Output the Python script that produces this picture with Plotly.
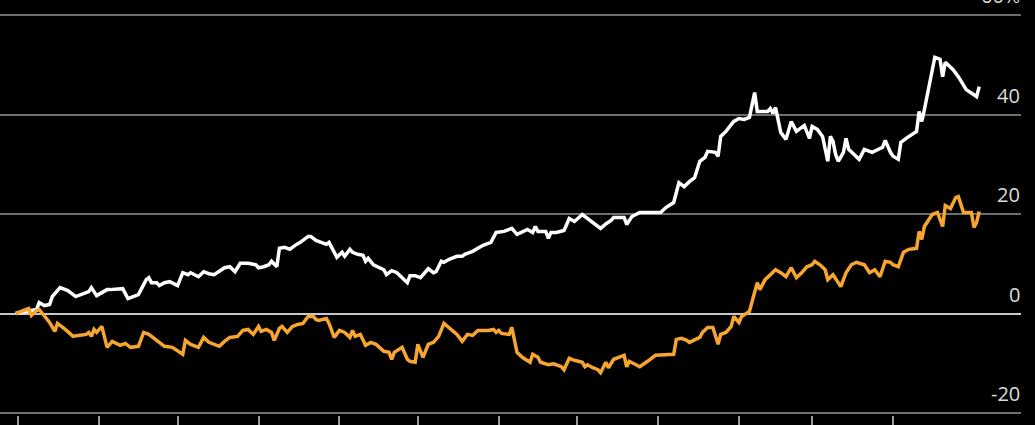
import pandas as pd
import plotly.graph_objects as go

start_date = pd.Timestamp("2022-05-01")

# White series: days since start, % change
white_days = [-1, 7, 8, 10, 12, 13, 16, 19, 22, 25, 27, 28, 30, 32, 34, 35, 40, 42, 46, 48,
              49, 50, 51, 53, 54, 56, 58, 61, 63, 65, 66, 69, 71, 73, 75, 79, 81, 83, 85, 88,
              91, 92, 94, 96, 97, 99, 100, 102, 104, 106, 108, 111, 112, 114, 116, 118, 119, 121, 122, 124,
              125, 127, 128, 130, 132, 133, 134, 136, 140, 141, 143, 145, 147, 149, 150, 152, 154, 157, 159, 160,
              162, 163, 165, 168, 170, 171, 173, 174, 176, 178, 181, 183, 186, 189, 191, 193, 195, 197, 198, 199,
              202, 203, 204, 206, 208, 209, 211, 213, 216, 218, 220, 223, 225, 227, 228, 232, 233, 235, 238, 239,
              246, 248, 251, 253, 255, 257, 259, 261, 263, 264, 267, 268, 269, 271, 274, 276, 278, 280, 281, 282,
              283, 287, 288, 289, 290, 291, 292, 294, 296, 298, 300, 301, 303, 304, 306, 308, 310, 311, 312, 313,
              314, 316, 317, 318, 320, 322, 324, 327, 331, 332, 334, 335, 337, 338, 340, 344, 345, 346, 347, 349,
              350, 351, 353, 354, 355, 358, 360, 362, 363, 367, 368]
white_vals = [0.0, 0.8, 2.2, 1.6, 1.8, 3.4, 5.2, 4.6, 3.4, 4.0, 4.4, 5.2, 3.6, 4.2, 4.8, 4.8, 5.0, 3.0, 3.8, 5.8,
              6.8, 7.2, 6.2, 6.2, 5.6, 6.2, 6.4, 5.6, 8.2, 7.8, 8.2, 7.4, 8.4, 8.0, 7.8, 9.2, 9.4, 8.4, 10.1, 10.1,
              9.8, 9.2, 9.4, 9.8, 10.5, 9.4, 13.1, 13.3, 12.9, 13.7, 14.3, 15.5, 15.5, 14.7, 14.3, 13.9, 14.3, 12.5, 11.3, 12.3,
              11.5, 12.9, 12.3, 11.9, 11.7, 10.5, 11.1, 9.8, 8.8, 7.8, 8.6, 8.2, 7.2, 6.2, 7.6, 7.6, 7.2, 9.0, 8.2, 8.4,
              10.5, 10.3, 10.9, 11.5, 11.5, 11.9, 12.3, 12.5, 13.1, 13.7, 14.3, 16.3, 16.5, 17.1, 15.9, 16.5, 16.9, 16.3, 17.5, 16.5,
              16.5, 15.1, 16.3, 16.3, 16.5, 16.7, 19.1, 18.5, 19.9, 19.1, 18.3, 17.1, 18.0, 18.7, 19.3, 19.3, 17.9, 19.5, 20.3, 20.3,
              20.3, 21.3, 22.3, 26.3, 25.5, 26.5, 27.3, 30.6, 31.4, 32.6, 32.4, 31.6, 35.6, 36.6, 38.6, 39.2, 39.0, 39.4, 41.6, 44.4,
              40.6, 40.6, 41.2, 40.2, 41.4, 38.4, 36.4, 35.0, 38.6, 36.6, 37.4, 37.8, 35.2, 37.6, 37.0, 35.6, 30.6, 35.6, 34.6, 32.0,
              30.6, 32.4, 35.2, 33.0, 32.0, 31.0, 33.0, 32.4, 33.4, 34.8, 32.4, 31.6, 31.0, 34.4, 35.2, 36.6, 40.6, 38.6, 41.0, 46.4,
              49.4, 51.5, 51.1, 47.6, 50.5, 49.0, 47.6, 46.0, 45.0, 43.6, 45.6]

# Orange series: days since start, % change
orange_days = [-1, 2, 4, 5, 7, 8, 10, 12, 14, 15, 18, 21, 23, 26, 27, 28, 29, 30, 32, 34,
               36, 39, 41, 43, 46, 48, 50, 53, 56, 59, 61, 63, 64, 66, 69, 71, 73, 76, 77, 79,
               81, 84, 86, 88, 90, 92, 93, 95, 97, 98, 100, 101, 103, 105, 107, 109, 111, 113, 114, 115,
               118, 119, 121, 123, 125, 127, 128, 129, 131, 133, 135, 137, 140, 142, 143, 144, 147, 149, 150, 152,
               153, 155, 157, 159, 161, 163, 165, 168, 170, 172, 174, 176, 180, 182, 183, 184, 185, 188, 189, 191,
               193, 196, 197, 199, 200, 203, 205, 208, 209, 211, 213, 216, 217, 218, 220, 222, 223, 225, 226, 228,
               232, 233, 234, 238, 241, 244, 251, 252, 254, 256, 257, 259, 261, 262, 264, 266, 268, 269, 271, 273,
               274, 276, 277, 280, 282, 283, 284, 286, 288, 290, 292, 294, 296, 298, 300, 302, 304, 305, 307, 309,
               310, 312, 314, 315, 317, 319, 321, 324, 326, 328, 330, 332, 334, 335, 337, 339, 341, 344, 345, 346,
               347, 350, 352, 354, 355, 357, 359, 360, 362, 365, 366, 367, 368]
orange_vals = [0.0, 0.6, 1.0, -0.4, 0.6, 0.8, -0.4, -1.8, -3.6, -2.0, -3.2, -4.6, -4.4, -4.2, -3.8, -4.6, -3.2, -3.8, -2.6, -6.8,
               -5.6, -6.4, -6.0, -6.8, -6.6, -3.8, -4.2, -5.4, -6.6, -6.8, -7.6, -8.2, -5.4, -6.2, -6.8, -4.8, -5.8, -6.4, -6.6, -5.6,
               -4.8, -4.6, -3.4, -3.2, -4.2, -2.6, -3.6, -3.2, -3.8, -5.4, -3.0, -2.6, -3.8, -2.6, -2.2, -2.0, -0.6, -0.6, -1.2, -1.4,
               -1.0, -2.0, -4.8, -3.4, -3.8, -4.8, -3.4, -4.6, -4.2, -6.4, -5.8, -6.2, -7.6, -7.8, -9.2, -7.8, -6.8, -9.2, -9.6, -9.8,
               -6.2, -8.8, -6.2, -5.8, -4.6, -2.0, -2.8, -4.2, -5.6, -4.2, -4.4, -3.4, -3.4, -3.2, -3.8, -3.4, -4.0, -4.2, -2.8, -7.8,
               -8.8, -9.8, -8.2, -8.8, -9.8, -10.3, -10.1, -10.7, -11.3, -9.0, -9.4, -9.8, -10.7, -10.3, -10.9, -11.3, -11.9, -9.8, -10.9, -9.2,
               -8.4, -10.7, -9.6, -10.7, -9.6, -8.4, -8.2, -5.2, -5.0, -5.4, -5.8, -5.2, -4.8, -3.8, -2.8, -2.8, -6.2, -4.2, -3.8, -2.6,
               -0.6, -1.8, -0.6, 0.4, 4.2, 6.2, 4.8, 6.8, 7.8, 8.8, 8.2, 7.4, 9.2, 7.2, 8.2, 9.4, 9.8, 10.5, 9.8, 8.8,
               6.8, 7.8, 6.2, 5.4, 8.2, 9.8, 10.3, 9.8, 8.2, 8.8, 7.4, 10.5, 10.3, 9.8, 9.4, 12.3, 12.9, 13.1, 16.5, 14.9,
               17.5, 19.9, 20.3, 17.5, 21.7, 21.1, 23.3, 23.5, 20.3, 20.3, 17.3, 18.3, 20.5]

# Axis ticks
month_ticks = ["2022-05-01", "2022-06-01", "2022-07-01", "2022-08-01", "2022-09-01", "2022-10-01",
               "2022-11-01", "2022-12-01", "2023-01-01", "2023-02-01", "2023-03-01", "2023-04-01"]
y_tickvals = [-20, 0, 20, 40, 60]
y_ticktext = ["-20", "0", "20", "40", "60%"]

white_dates = start_date + pd.to_timedelta(white_days, unit="D")
orange_dates = start_date + pd.to_timedelta(orange_days, unit="D")

fig = go.Figure()
fig.add_trace(go.Scatter(x=white_dates, y=white_vals, mode="lines",
                         line=dict(color="#ffffff", width=3.5), showlegend=False))
fig.add_trace(go.Scatter(x=orange_dates, y=orange_vals, mode="lines",
                         line=dict(color="#f7a531", width=3.5), showlegend=False))

# Y tick labels drawn right-aligned just above each gridline
for val, txt in zip(y_tickvals, y_ticktext):
    fig.add_annotation(
        x=1, xref="paper", xanchor="right",
        y=val, yref="y", yanchor="bottom", yshift=5,
        text=txt, showarrow=False, borderpad=0,
        font=dict(family="Open Sans, sans-serif", color="#dddddd", size=20),
    )

fig.update_layout(
    width=1035, height=425,
    paper_bgcolor="#000000", plot_bgcolor="#000000",
    margin=dict(l=0, r=14, t=13, b=10, autoexpand=False),
    showlegend=False,
    font=dict(family="Open Sans, sans-serif", color="#dddddd", size=20),
)
fig.update_xaxes(
    range=["2022-04-24", "2023-05-20"], automargin=False,
    tickvals=month_ticks, showticklabels=False,
    ticks="outside", ticklen=15, tickwidth=2, tickcolor="#9a9a9a",
    showgrid=False, zeroline=False, showline=False,
)
fig.update_yaxes(
    range=[-20.4, 60.4], side="right", automargin=False,
    tickvals=y_tickvals, showticklabels=False, ticks="",
    showgrid=True, gridcolor="#6e6e6e", gridwidth=1.5,
    zeroline=True, zerolinecolor="#c8c8c8", zerolinewidth=2,
    showline=False,
)

fig.write_html(
    "out.html",
    config={"displayModeBar": False},
    post_script="document.body.style.margin='0';document.body.style.background='#000';",
)
